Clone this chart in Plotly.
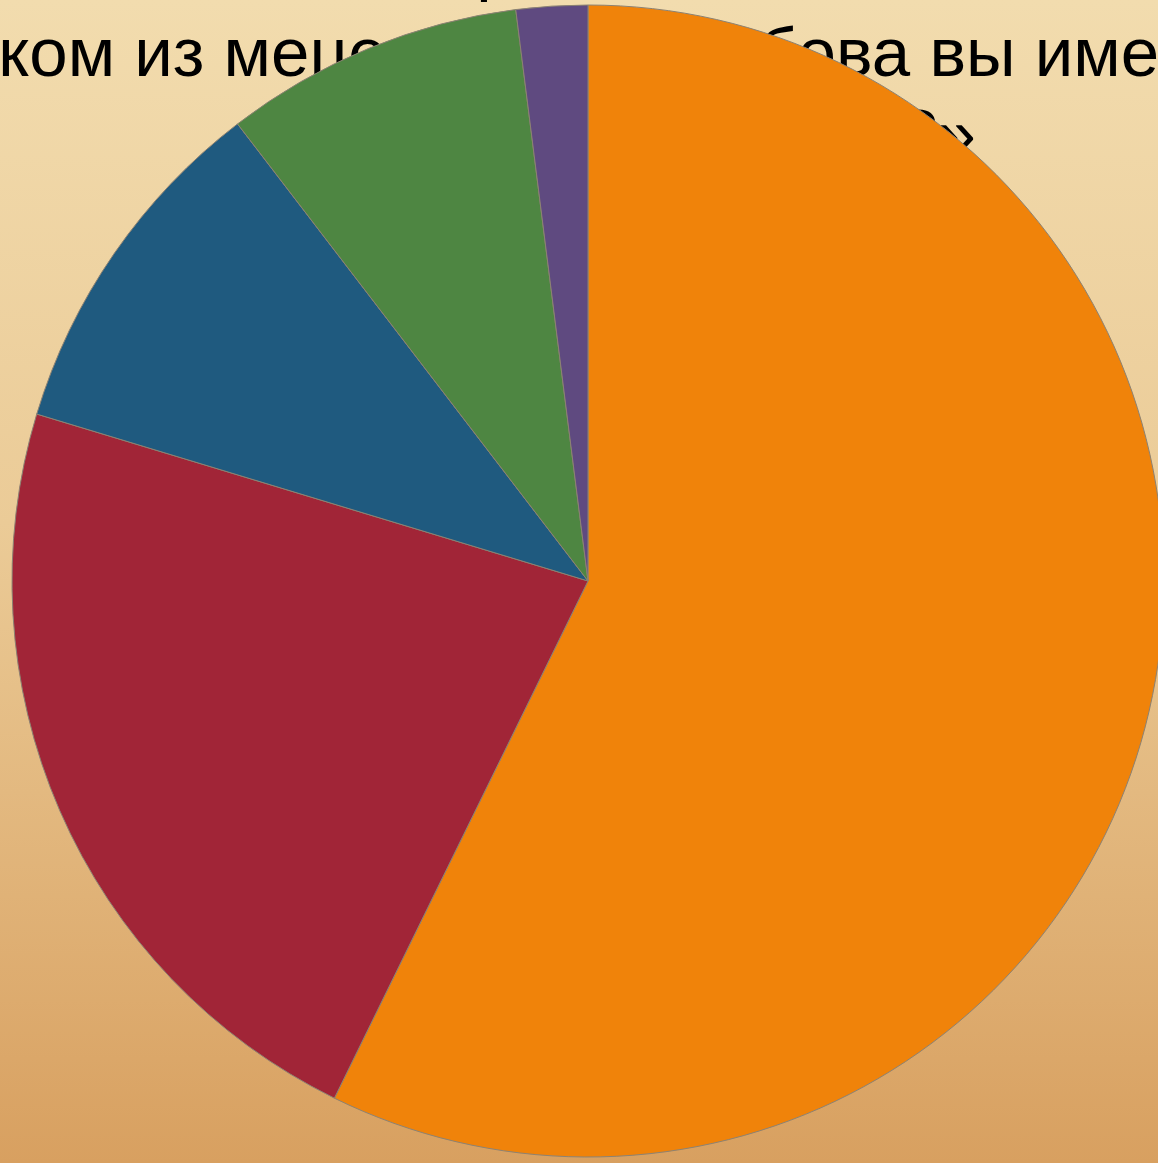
import plotly.graph_objects as go

# Data (clockwise from 12 o'clock)
categories = ["Категория 1", "Категория 2", "Категория 3", "Категория 4", "Категория 5"]
values = [57.2, 22.4, 9.9, 8.4, 2.0]
slice_colors = ["#F0830A", "#A12537", "#1F5A7F", "#4E8642", "#5F4A80"]

title_texts = [
    "Вопрос анкеты",
    "«О каком из меценатов",
    "Тамбова вы имеете",
    "представление?»",
]

W, H = 1176, 1163

fig = go.Figure()

# parchment-like background (vertical gradient)
fig.add_trace(go.Scatter(
    x=[0, W, W, 0, 0], y=[0, 0, H, H, 0],
    fill="toself", mode="lines", line=dict(width=0),
    fillgradient=dict(type="vertical",
                      colorscale=[[0, "#D8A060"], [0.55, "#EBCB97"], [1, "#F2DCAE"]]),
    hoverinfo="skip", showlegend=False,
))

# title text lying underneath the pie
fig.add_trace(go.Scatter(
    x=[593, -183, 634, 976], y=[-29, 59, 59, 140],
    text=title_texts, mode="text",
    textposition=["middle center", "middle right", "middle right", "middle left"],
    textfont=dict(family="Liberation Sans, Arial, sans-serif", size=69, color="#000000"),
    cliponaxis=True, hoverinfo="skip", showlegend=False,
))

fig.add_trace(go.Pie(
    labels=categories, values=values, sort=False, direction="clockwise", rotation=0,
    marker=dict(colors=slice_colors, line=dict(color="#8c8273", width=1)),
    textinfo="none", hoverinfo="label+percent", showlegend=False,
    domain=dict(x=[0.0102, 0.9898], y=[0.00516, 0.99570]),
))

fig.update_layout(
    width=W, height=H,
    margin=dict(l=0, r=0, t=0, b=0),
    paper_bgcolor="#E8C48E", plot_bgcolor="rgba(0,0,0,0)",
    xaxis=dict(range=[0, W], visible=False, fixedrange=True),
    yaxis=dict(range=[H, 0], visible=False, fixedrange=True),
    showlegend=False,
)

fig.write_html(
    "out.html",
    config={"displayModeBar": False},
    post_script="document.body.style.margin='0';document.body.style.overflow='hidden';",
)
